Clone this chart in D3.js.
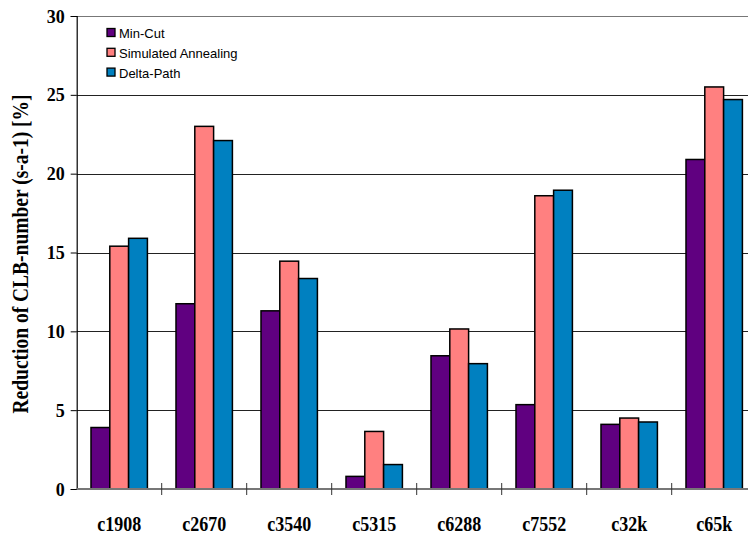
<!DOCTYPE html>
<html>
<head>
<meta charset="utf-8">
<script src="https://cdn.jsdelivr.net/npm/d3@7"></script>
<style>
  html, body { margin: 0; padding: 0; background: #fff; }
  svg { display: block; }
</style>
</head>
<body>
<script>
// Circuits and the CLB-number reduction achieved by each method
const categories = ["c1908", "c2670", "c3540", "c5315", "c6288", "c7552", "c32k", "c65k"];
const seriesNames = ["Min-Cut", "Simulated Annealing", "Delta-Path"];
const minCut = [3.9, 11.75, 11.3, 0.8, 8.45, 5.35, 4.1, 20.9];
const simulatedAnnealing = [15.4, 23.0, 14.45, 3.65, 10.15, 18.6, 4.5, 25.5];
const deltaPath = [15.9, 22.1, 13.35, 1.55, 7.95, 18.95, 4.25, 24.7];
const seriesColors = ["#600080", "#FF8080", "#0080C0"];
const yTicks = [0, 5, 10, 15, 20, 25, 30];
const yTitle = "Reduction of CLB-number (s-a-1) [%]";

const W = 748, H = 535;
const svg = d3.select("body").append("svg").attr("width", W).attr("height", H);

const x0 = d3.scaleBand().domain(categories).range([76.7, 756.7]).padding(0);
const x1 = d3.scaleBand().domain(seriesNames).range([0, x0.bandwidth()])
  .paddingInner(0).paddingOuter(0.76);
const y = d3.scaleLinear().domain([0, 30]).range([489, 16]);
const color = d3.scaleOrdinal().domain(seriesNames).range(seriesColors);

const values = [minCut, simulatedAnnealing, deltaPath];
const rows = categories.map((c, i) => ({
  cat: c,
  vals: seriesNames.map((s, k) => ({ s, v: values[k][i] }))
}));

// horizontal gridlines
svg.append("g").selectAll("line").data(yTicks.filter(t => t > 0)).join("line")
  .attr("x1", 76.7).attr("x2", W)
  .attr("y1", d => Math.round(y(d)) + 0.5).attr("y2", d => Math.round(y(d)) + 0.5)
  .attr("stroke", d => d === 30 ? "#777" : "#222").attr("stroke-width", 1);

// bars
const groups = svg.append("g").selectAll("g").data(rows).join("g")
  .attr("transform", d => `translate(${x0(d.cat)},0)`);
groups.selectAll("rect").data(d => d.vals).join("rect")
  .attr("x", d => x1(d.s))
  .attr("y", d => y(d.v))
  .attr("width", x1.bandwidth())
  .attr("height", d => y(0) - y(d.v))
  .attr("fill", d => color(d.s))
  .attr("stroke", "#000").attr("stroke-width", 1.5);

// y axis
const yAxis = d3.axisLeft(y).tickValues(yTicks).tickSize(6).tickPadding(6);
const gy = svg.append("g").attr("transform", "translate(76.7,0)").call(yAxis);
gy.select(".domain").attr("stroke", "#000").attr("stroke-width", 1.2);
gy.selectAll(".tick line").attr("stroke", "#000");
gy.selectAll(".tick text")
  .attr("font-family", "'Liberation Serif', 'Times New Roman', serif")
  .attr("font-weight", "bold").attr("font-size", 18).attr("fill", "#000")
  .attr("dy", "0.34em");

// x axis baseline with category dividers
svg.append("line").attr("x1", 76.7).attr("x2", W).attr("y1", y(0)).attr("y2", y(0))
  .attr("stroke", "#777").attr("stroke-width", 2);
const edges = categories.map(c => x0(c)).concat([x0(categories[categories.length - 1]) + x0.bandwidth()]);
svg.append("g").selectAll("line").data(edges.slice(1)).join("line")
  .attr("x1", d => d).attr("x2", d => d)
  .attr("y1", y(0) - 6).attr("y2", y(0) + 6)
  .attr("stroke", "#333").attr("stroke-width", 1);

// category labels (slightly tall serif lettering)
svg.append("g").selectAll("text").data(categories).join("text")
  .attr("transform", d => `translate(${x0(d) + x0.bandwidth() / 2},531) scale(1,1.2)`)
  .attr("text-anchor", "middle")
  .attr("font-family", "'Liberation Serif', 'Times New Roman', serif")
  .attr("font-weight", "bold").attr("font-size", 18).attr("fill", "#000")
  .text(d => d);

// y axis title
svg.append("text")
  .attr("transform", "translate(28,254) rotate(-90) scale(1,1.15)")
  .attr("text-anchor", "middle")
  .attr("font-family", "'Liberation Serif', 'Times New Roman', serif")
  .attr("font-weight", "bold").attr("font-size", 19.5).attr("fill", "#000")
  .text(yTitle);

// legend
const legend = svg.append("g").attr("transform", "translate(107,28)");
const items = legend.selectAll("g").data(seriesNames).join("g")
  .attr("transform", (d, i) => `translate(0,${i * 19.8})`);
items.append("rect").attr("x", 0).attr("y", 0.5).attr("width", 8).attr("height", 8)
  .attr("fill", d => color(d)).attr("stroke", "#000").attr("stroke-width", 1.3);
items.append("text").attr("x", 12).attr("y", 10)
  .attr("font-family", "'Liberation Sans', Arial, sans-serif")
  .attr("font-size", 13).attr("fill", "#000")
  .text(d => d);
</script>
</body>
</html>
